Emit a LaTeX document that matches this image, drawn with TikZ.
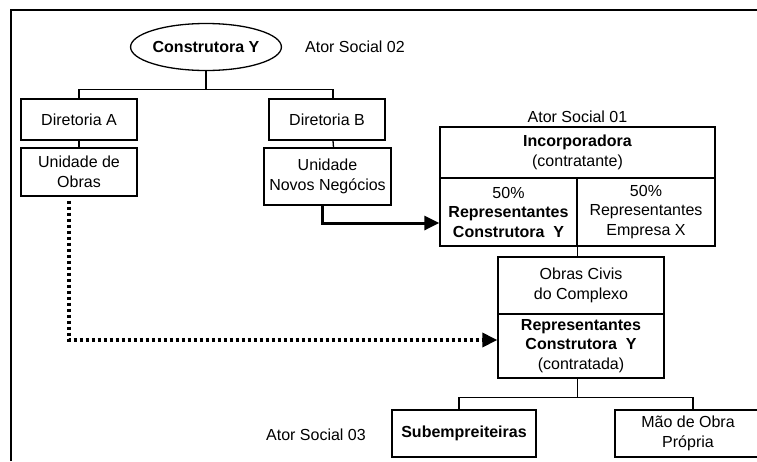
\documentclass[tikz,border=0pt]{standalone}
\usepackage{fontspec}
\setmainfont{Liberation Sans}
\usetikzlibrary{arrows.meta,shapes.geometric}
\newcommand\dfont{\fontsize{16}{19.5}\selectfont}
\begin{document}
\begin{tikzpicture}[x=1pt,y=-1pt,
  box/.style={draw, line width=1.3pt, rectangle, inner sep=0pt, align=center, font=\dfont},
  oval/.style={draw, line width=1.3pt, ellipse, inner sep=0pt, minimum width=136pt, minimum height=47pt, font=\dfont},
  lbl/.style={inner sep=0pt, font=\dfont},
  conn/.style={line width=1.3pt},
  bigarrow/.style={line width=3pt, -{Triangle[length=15pt,width=14pt]}},
  dotarrow/.style={line width=3.3pt, dash pattern=on 3.3pt off 2.7pt, -{Triangle[length=15pt,width=14pt]}}
]
\useasboundingbox (0,0) rectangle (757,461);
\draw[line width=1.4pt] (11,461) -- (11,10) -- (757,10);

\node[oval] (cy) at (206,47) {\textbf{Construtora Y}};
\node[lbl, anchor=west] (a02) at (305,47) {Ator Social 02};
\node[box, minimum width=116pt, minimum height=41pt] (da) at (79,119.5) {Diretoria A};
\node[box, minimum width=116pt, minimum height=41pt] (db) at (327,119.5) {Diretoria B};
\node[box, minimum width=116pt, minimum height=48pt] (uo) at (79,172) {Unidade de\\Obras};
\node[box, minimum width=127pt, minimum height=57pt] (un) at (327.5,176.5) {Unidade\\Novos Negócios};

\node[lbl] (a01) at (577.5,117) {Ator Social 01};
\node[box, minimum width=275pt, minimum height=51pt] (it) at (577.5,152.5) {\textbf{Incorporadora}\\(contratante)};
\node[box, minimum width=137pt, minimum height=68pt] (il) at (508.5,212) {50\%\\\textbf{Representantes}\\\textbf{Construtora~ Y}};
\node[box, minimum width=138pt, minimum height=68pt] (ir) at (646,212) {50\%\\Representantes\\Empresa X};

\node[box, minimum width=166pt, minimum height=57pt] (ot) at (581,285.5) {Obras Civis\\do Complexo};
\node[box, minimum width=166pt, minimum height=64pt] (ob) at (581,346) {\textbf{Representantes}\\\textbf{Construtora~ Y}\\(contratada)};

\node[box, minimum width=144pt, minimum height=47pt] (sb) at (464,433.5) {\textbf{Subempreiteiras}};
\node[box, minimum width=146pt, minimum height=47pt] (mo) at (688,433.5) {Mão de Obra\\Própria};
\node[lbl, anchor=west] (a03) at (266,435) {Ator Social 03};

% connectors
\draw[conn] (cy.south) -- ++(0,18) coordinate (b1);
\draw[conn] (da.north) |- (b1) -| ([xshift=6pt]db.north);
\draw[conn] (da.south) -- (uo.north);
\draw[conn] ([xshift=6pt]db.south) -- ([xshift=6pt]un.north);
\draw[conn] (il.south east) -- (il.south east |- ot.north);
\draw[conn] (il.south east |- ob.south) -- ++(0,19) coordinate (b2);
\draw[conn] ([xshift=-5pt]sb.north) |- (b2) -| ([xshift=5pt]mo.north);

\draw[bigarrow] ([xshift=-5pt]un.south) |- ([yshift=-11pt]il.west);
\draw[dotarrow] ([xshift=-10pt,yshift=-4pt]uo.south) |- ([yshift=6pt]ob.west);
\end{tikzpicture}
\end{document}
